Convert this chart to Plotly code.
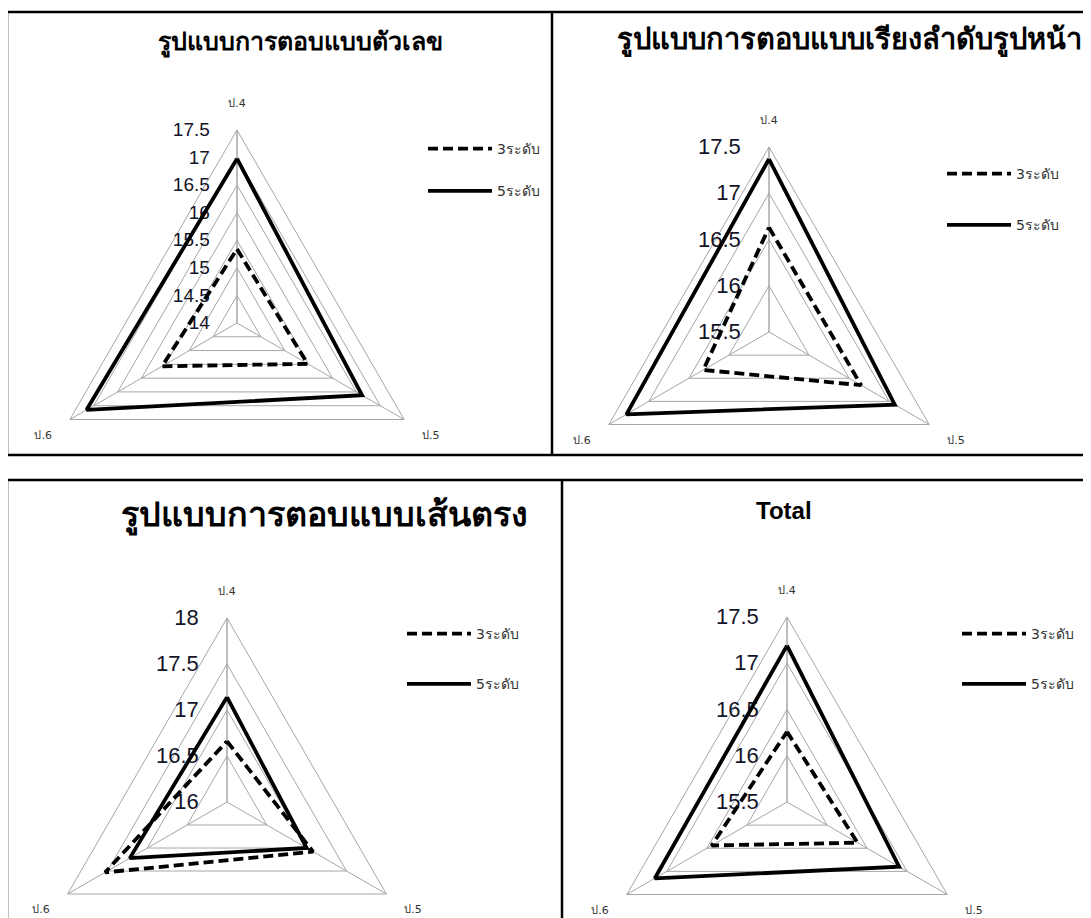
import plotly.graph_objects as go

# page is rendered with an 8px body margin; figure is taller than the
# window so the lower radar circles fit (the part below the window is unseen)
W, H = 1091, 1000
OFF = 8

categories = ["ป.4", "ป.5", "ป.6"]
series_names = ["3ระดับ", "5ระดับ"]

titles = [
    "รูปแบบการตอบแบบตัวเลข",
    "รูปแบบการตอบแบบเรียงลำดับรูปหน้า",
    "รูปแบบการตอบแบบเส้นตรง",
    "Total",
]

p1_3 = [15.34, 15.48, 15.57]
p1_5 = [16.98, 16.62, 17.15]
p2_3 = [16.63, 16.65, 16.32]
p2_5 = [17.37, 17.07, 17.28]
p3_3 = [16.66, 17.08, 17.53]
p3_5 = [17.14, 17.00, 17.22]
p4_3 = [16.26, 16.38, 16.44]
p4_5 = [17.19, 16.90, 17.15]

ranges = [(14, 17.5), (15.5, 17.5), (16, 18), (15.5, 17.5)]
values = [(p1_3, p1_5), (p2_3, p2_5), (p3_3, p3_5), (p4_3, p4_5)]

# layout geometry (page pixels): centre x, centre y, radius
centers = [(237, 323, 193), (769, 332, 185), (227, 802, 184), (787, 802, 185)]
radial_font = [19, 22, 22, 22]
title_pos = [(300, 42, 25), (849, 39, 29), (324, 515, 34), (784, 510, 24)]
title_font = ["Tahoma, 'DejaVu Sans', sans-serif"] * 3 + ["Liberation Sans, Arial, sans-serif"]
legend_pos = [(423, 133), (942, 158), (402, 618), (957, 618)]
legend_gap = [21, 30, 29, 29]

FONT = "Tahoma, 'DejaVu Sans', 'Noto Sans', sans-serif"

fig = go.Figure()

def px(x):
    return (x - OFF) / W

def py(y):
    return 1 - (y - OFF) / H

for i in range(4):
    pk = "polar" if i == 0 else f"polar{i+1}"
    lk = "legend" if i == 0 else f"legend{i+1}"
    cats = categories + [categories[0]]
    v3, v5 = values[i]
    fig.add_trace(go.Scatterpolar(
        r=list(v3) + [v3[0]], theta=cats, mode="lines", name=series_names[0],
        line=dict(color="black", width=3.8, dash="10px,5px"),
        subplot=pk, legend=lk, legendgroup=f"g{i}a", hoverinfo="r+theta"))
    fig.add_trace(go.Scatterpolar(
        r=list(v5) + [v5[0]], theta=cats, mode="lines", name=series_names[1],
        line=dict(color="black", width=3.8),
        subplot=pk, legend=lk, legendgroup=f"g{i}b", hoverinfo="r+theta"))

    cx, cy, r = centers[i]
    lo, hi = ranges[i]
    fig.layout[pk] = dict(
        domain=dict(x=[px(cx - r), px(cx + r)], y=[py(cy + r), py(cy - r)]),
        bgcolor="white",
        gridshape="linear",
        radialaxis=dict(range=[lo, hi], dtick=0.5, angle=90, tickangle=90,
                        side="counterclockwise", showline=True,
                        linecolor="#a6a6a6", linewidth=1,
                        gridcolor="#a6a6a6", gridwidth=1,
                        ticks="outside", ticklen=20,
                        tickcolor="rgba(0,0,0,0)", layer="below traces",
                        tickfont=dict(size=radial_font[i], color="#141428",
                                      family="Liberation Sans, Arial")),
        angularaxis=dict(direction="clockwise", rotation=90,
                         categoryarray=categories, type="category",
                         showline=True, linecolor="#a6a6a6", linewidth=1,
                         gridcolor="#a6a6a6", gridwidth=1,
                         ticks="outside", ticklen=18,
                         tickcolor="rgba(0,0,0,0)",
                         layer="below traces",
                         tickfont=dict(size=11, color="#333",
                                       family=FONT)),
    )
    lx, ly = legend_pos[i]
    fig.layout[lk] = dict(x=px(lx), y=py(ly), xanchor="left", yanchor="top",
                          bgcolor="rgba(0,0,0,0)", tracegroupgap=legend_gap[i],
                          itemwidth=64,
                          font=dict(size=14, color="#333", family=FONT))

    tx, ty, ts = title_pos[i]
    fig.add_annotation(x=px(tx), y=py(ty), xref="paper", yref="paper",
                       text=f"<b>{titles[i]}</b>", showarrow=False,
                       font=dict(size=ts, color="black", family=title_font[i]),
                       xanchor="center", yanchor="middle")

# panel borders (page pixels)
border = dict(color="black", width=2.5)
lines = [
    (7, 12, 1100, 12), (7, 12, 7, 455), (552, 12, 552, 455), (7, 455, 1100, 455),
    (7, 480, 1100, 480), (7, 480, 7, 1000), (562, 480, 562, 1000),
]
for x0, y0, x1, y1 in lines:
    fig.add_shape(type="line", xref="paper", yref="paper",
                  x0=px(x0), y0=py(y0), x1=px(x1), y1=py(y1), line=border)

fig.update_layout(width=W, height=H, margin=dict(l=0, r=0, t=0, b=0),
                  paper_bgcolor="white", plot_bgcolor="white",
                  font=dict(family=FONT))

fig.write_html("out.html")
